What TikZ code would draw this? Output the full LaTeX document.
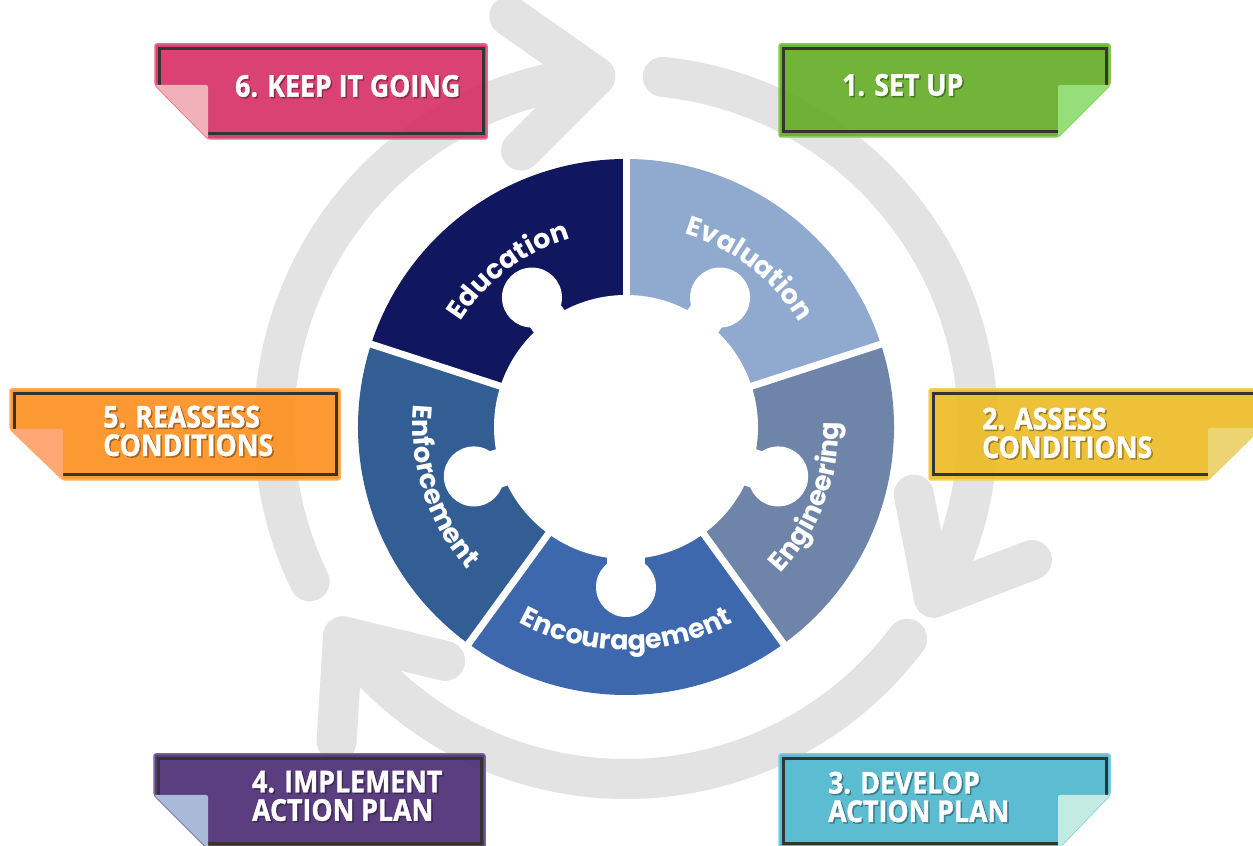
\documentclass[tikz,border=0pt]{standalone}
\usepackage{fontspec}
\usetikzlibrary{calc,decorations.text}
\newfontfamily\wheelfont{Poppins}
\newfontfamily\boxfont{Open Sans}[FakeStretch=0.89, BoldFeatures={FakeBold=1.2}]
\definecolor{ringgray}{HTML}{E3E3E3}
\definecolor{framegray}{HTML}{343434}
\definecolor{cEdu}{HTML}{10175E}
\definecolor{cEva}{HTML}{8FA9CF}
\definecolor{cEng}{HTML}{6E84A8}
\definecolor{cEnc}{HTML}{3E68AE}
\definecolor{cEnf}{HTML}{325E94}
\definecolor{pinkM}{HTML}{D52E63}
\definecolor{pinkB}{HTML}{E46A90}
\definecolor{pinkF}{HTML}{F0B2B8}
\definecolor{greenM}{HTML}{62AC24}
\definecolor{greenB}{HTML}{8CC75C}
\definecolor{greenF}{HTML}{96DE7A}
\definecolor{yellowM}{HTML}{EDBB23}
\definecolor{yellowB}{HTML}{F3CF5E}
\definecolor{yellowF}{HTML}{EDD472}
\definecolor{orangeM}{HTML}{FD8F1C}
\definecolor{orangeB}{HTML}{FDAE5E}
\definecolor{orangeF}{HTML}{FFA876}
\definecolor{cyanM}{HTML}{4BB5CE}
\definecolor{cyanB}{HTML}{7FCCDF}
\definecolor{cyanF}{HTML}{C4EBE2}
\definecolor{purpleM}{HTML}{4A2A72}
\definecolor{purpleB}{HTML}{7C64A0}
\definecolor{purpleF}{HTML}{A8BAD8}
\newcommand{\wf}{\wheelfont\bfseries\fontsize{27}{27}\selectfont}
% #1 x0, #2 Ytop, #3 x1, #4 Ybot, #5 flapY, #6 flapX, #7 main, #8 flap, #9 border
\newcommand{\stickerL}[9]{%
  \fill[#7, fill opacity=.9, draw=#9, line width=1.5pt, rounded corners=2pt]
    (#1,#2) -- (#3,#2) -- (#3,#4) -- (#6,#4) -- (#1,#5) -- cycle;
  \draw[frame] (#6,#4+5) -- (#3-4,#4+5) -- (#3-4,#2-5) -- (#1+4,#2-5) -- (#1+4,#5);
  \fill[#8, rounded corners=2pt] (#1,#5) -- (#6,#5) -- (#6,#4) -- cycle;
}
\newcommand{\stickerR}[9]{%
  \fill[#7, fill opacity=.9, draw=#9, line width=1.5pt, rounded corners=2pt]
    (#1,#2) -- (#3,#2) -- (#3,#5) -- (#6,#4) -- (#1,#4) -- cycle;
  \draw[frame] (#6,#4+5) -- (#1+4,#4+5) -- (#1+4,#2-5) -- (#3-4,#2-5) -- (#3-4,#5);
  \fill[#8, rounded corners=2pt] (#6,#5) -- (#3,#5) -- (#6,#4) -- cycle;
}
\begin{document}
\begin{tikzpicture}[x=1pt,y=1pt,
  ring/.style={draw=ringgray, line width=40pt, line cap=round, line join=round},
  frame/.style={draw=framegray, line width=3pt},
  lbl/.style={text=white, font=\boxfont\bfseries\fontsize{30}{28.5}\selectfont, align=left, anchor=west, inner sep=0pt},
  lblshadow/.style={lbl, text=black, text opacity=.3},
  wheeltext/.style={decorate, decoration={text along path, text align=center, text color=white, text={|\wf|#1}}}]
\useasboundingbox (0,0) rectangle (1253,846);
\clip (0,0) rectangle (1253,846);
\fill[white] (0,0) rectangle (1253,846);
\coordinate (C) at (626,419);

% gray cycle arrows
\draw[ring] ($(C)+(206:352)$) arc[start angle=206, end angle=95, radius=352] coordinate (tA);
\draw[ring] ($(tA)+(145:105)$) -- (tA) -- ($(tA)+(225:105)$);
\draw[ring] ($(C)+(84:352)$) arc[start angle=84, end angle=-29, radius=352] coordinate (tB);
\draw[ring] ($(tB)+(21:105)$) -- (tB) -- ($(tB)+(101:105)$);
\draw[ring] ($(C)+(-37:352)$) arc[start angle=-37, end angle=-143.5, radius=352] coordinate (tC);
\draw[ring] ($(tC)+(266.5:105)$) -- (tC) -- ($(tC)+(346.5:105)$);

% stickers
\stickerL{155}{802}{487}{707}{761}{208}{pinkM}{pinkF}{pinkB}
\stickerR{779}{802}{1110}{709}{761}{1058}{greenM}{greenF}{greenB}
\stickerR{929}{457}{1261}{366}{418}{1208}{yellowM}{yellowF}{yellowB}
\stickerL{10}{457}{340}{366}{417}{63}{orangeM}{orangeF}{orangeB}
\stickerR{779}{92}{1110}{-3}{51}{1058}{cyanM}{cyanF}{cyanB}
\stickerL{154}{92}{485}{-3}{51}{208}{purpleM}{purpleF}{purpleB}

\node[lblshadow] at (236.5,758.5) {6. KEEP IT GOING};
\node[lbl] (s6) at (235,760) {6. KEEP IT GOING};
\node[lblshadow] at (843.5,759.5) {1. SET UP};
\node[lbl] (s1) at (842,761) {1. SET UP};
\node[lblshadow] at (983.5,411.5) {2. ASSESS\\CONDITIONS};
\node[lbl] (s2) at (982,413) {2. ASSESS\\CONDITIONS};
\node[lblshadow] at (104.5,413.5) {5. REASSESS\\CONDITIONS};
\node[lbl] (s5) at (103,415) {5. REASSESS\\CONDITIONS};
\node[lblshadow] at (829.5,47.5) {3. DEVELOP\\ACTION PLAN};
\node[lbl] (s3) at (828,49) {3. DEVELOP\\ACTION PLAN};
\node[lblshadow] at (253.5,48.5) {4. IMPLEMENT\\ACTION PLAN};
\node[lbl] (s4) at (252,50) {4. IMPLEMENT\\ACTION PLAN};

% wheel
\foreach \a/\b/\c in {90/162/cEdu, 18/90/cEva, -54/18/cEng, -126/-54/cEnc, 162/234/cEnf}
  \fill[\c] (C) -- ($(C)+(\a:268)$) arc[start angle=\a, end angle=\b, radius=268] -- cycle;
\fill[white] (C) circle[radius=132];
\foreach \t in {126,54,-18,-90,198} {
  \fill[white] ($(C)+(\t:160)$) circle[radius=30];
  \draw[white, line width=38pt] ($(C)+(\t:120)$) -- ($(C)+(\t:160)$);
}
\foreach \t in {90,18,-54,-126,162}
  \draw[white, line width=7pt] ($(C)+(\t:125)$) -- ($(C)+(\t:275)$);

\path[wheeltext=Education] ($(C)+(172:196)$) arc[start angle=172, end angle=82, radius=196];
\path[wheeltext=Evaluation] ($(C)+(97:202)$) arc[start angle=97, end angle=7, radius=202];
\path[wheeltext=Engineering] ($(C)+(-66:213)$) arc[start angle=-66, end angle=24, radius=213];
\path[wheeltext=Encouragement] ($(C)+(-135:223)$) arc[start angle=-135, end angle=-45, radius=223];
\path[wheeltext=Enforcement] ($(C)+(153:213)$) arc[start angle=153, end angle=243, radius=213];
\end{tikzpicture}
\end{document}
